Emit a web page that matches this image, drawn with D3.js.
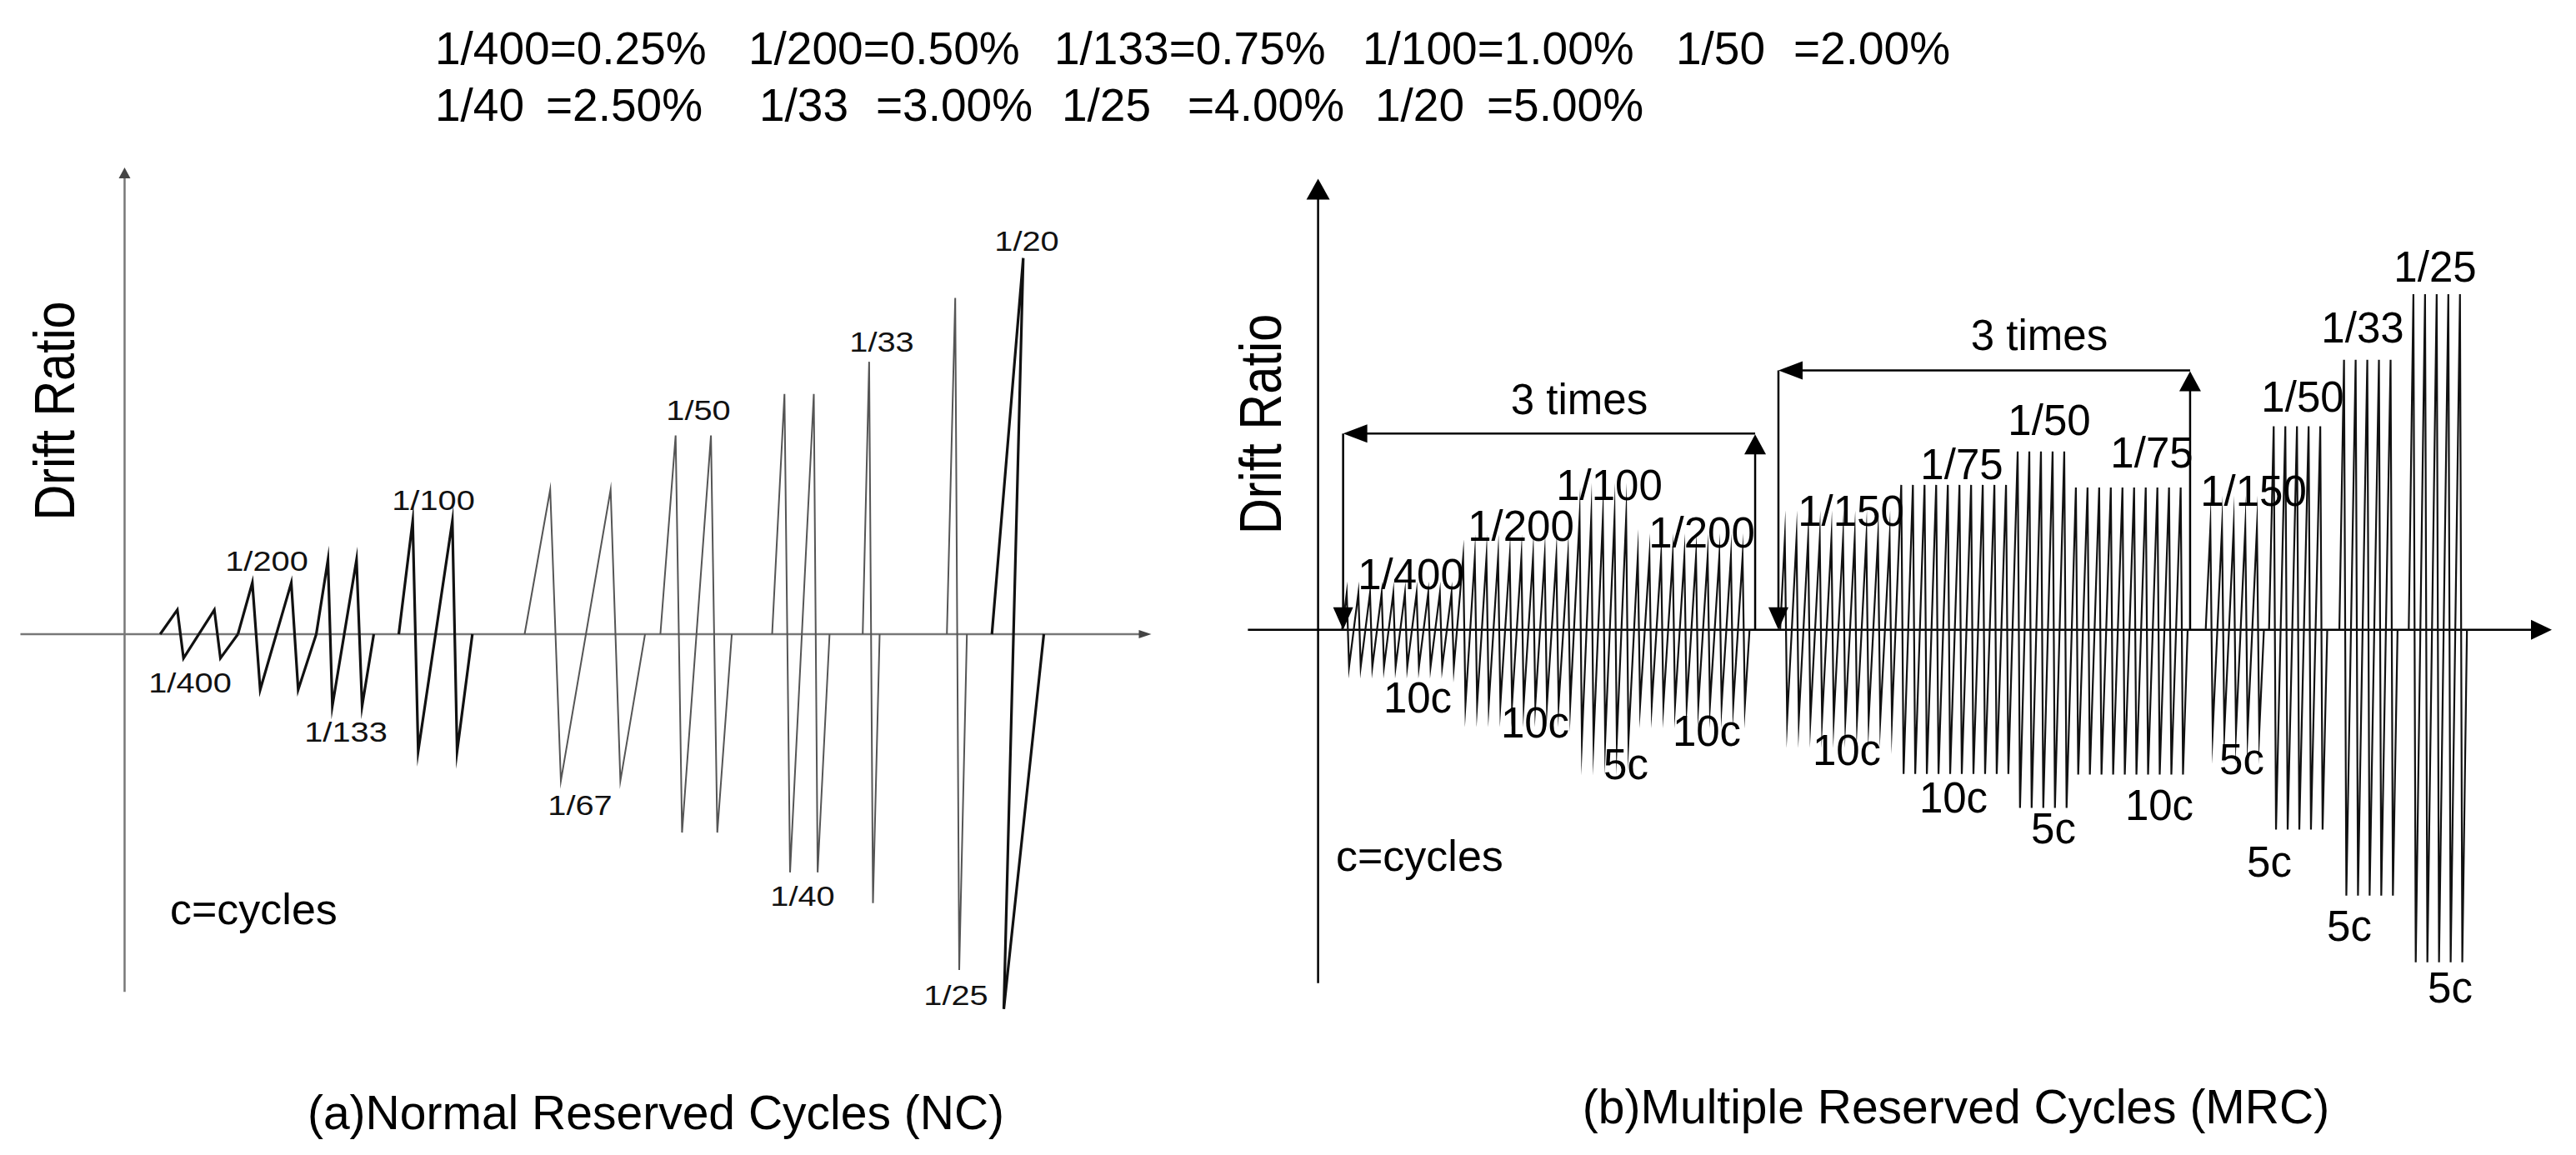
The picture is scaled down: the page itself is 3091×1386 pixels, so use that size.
<!DOCTYPE html>
<html><head><meta charset="utf-8">
<script src="https://cdn.jsdelivr.net/npm/d3@7/dist/d3.min.js"></script>
<style>html,body{margin:0;padding:0;background:#fff;} svg{display:block;}</style>
</head><body><svg id="c" width="3091" height="1386"></svg>
<script>
// ---------------- DATA ----------------
// legend (top)
const legendRow1 = ["1/400=0.25%", "1/200=0.50%", "1/133=0.75%", "1/100=1.00%", "1/50", "=2.00%"];
const legendRow2 = ["1/40", "=2.50%", "1/33", "=3.00%", "1/25", "=4.00%", "1/20", "=5.00%"];
const captions = ["(a)Normal Reserved Cycles (NC)", "(b)Multiple Reserved Cycles (MRC)"];
const axisTitle = "Drift Ratio";
const noteText = "c=cycles";
const timesText = "3 times";

// (a) NC protocol: one polyline per drift level (time, relative drift)
const ncLabels = ["1/400", "1/200", "1/133", "1/100", "1/67", "1/50", "1/40", "1/33", "1/25", "1/20"];
const ncTime = [
  [4.27, 6.33, 7.07, 10.77, 11.5, 13.6],
  [13.6, 15.33, 16.27, 20.0, 20.83, 23.0],
  [23.0, 24.4, 24.93, 27.83, 28.5, 29.9],
  [32.9, 34.57, 35.23, 39.33, 39.9, 41.73],
  [48.0, 51.07, 52.35, 58.32, 59.49, 62.45],
  [64.29, 66.12, 66.89, 70.36, 71.12, 72.86],
  [77.7, 79.18, 79.85, 82.7, 83.16, 84.59],
  [88.57, 89.34, 89.8, 90.6],
  [98.67, 99.67, 100.15, 101.07],
  [104.07, 107.83, 105.5, 110.3]
];
const ncDrift = [
  [0, 0.99, -0.98, 0.99, -0.98, 0],
  [0, 2.09, -2.26, 2.09, -2.26, 0],
  [0, 3.02, -2.92, 3.02, -2.92, 0],
  [0, 4.6, -4.76, 4.6, -4.76, 0],
  [0, 5.88, -5.97, 5.88, -5.97, 0],
  [0, 8.08, -8.07, 8.08, -8.07, 0],
  [0, 9.77, -9.69, 9.77, -9.69, 0],
  [0, 11.08, -10.94, 0],
  [0, 13.68, -13.66, 0],
  [0, 15.3, -15.25, 0]
];
const ncHeavy = [true, true, true, true, false, false, false, false, false, true];

// (b) MRC protocol: groups of cycles (label, n cycles, +peak, -peak, first-peak time, section)
const mrcLabels = ["1/400", "1/200", "1/100", "1/200", "1/150", "1/75", "1/50", "1/75", "1/150", "1/50", "1/33", "1/25"];
const mrcCycles = [10, 10, 5, 10, 10, 10, 5, 10, 5, 5, 5, 5];
const mrcUp = [1.0, 1.97, 3.05, 1.99, 2.48, 3.95, 4.86, 3.88, 2.78, 5.55, 7.36, 9.15];
const mrcDown = [1.01, 2.03, 3.01, 2.05, 2.45, 3.93, 4.86, 3.95, 2.79, 5.45, 7.25, 9.07];
const mrcStart = [2.46, 12.46, 22.46, 27.46, 40.09, 50.09, 60.09, 65.09, 76.64, 82.08, 88.12, 94.08];
const mrcSection = [1, 1, 1, 1, 2, 2, 2, 2, 3, 4, 5, 6];
// repetition brackets ("3 times"): [from time, to time, height]
const mrcBrackets = [[2.15, 37.54, 5.35], [39.54, 74.9, 7.07]];

// ---------------- LAYOUT ----------------
const W = 3091, H = 1386;
const FONT = "'Liberation Sans', Arial, Helvetica, sans-serif";
const svg = d3.select("#c").attr("viewBox", `0 0 ${W} ${H}`);

// legend rows
const row1X = [522, 898, 1265, 1635, 2011, 2152];
const row2X = [522, 655, 911, 1051, 1274, 1425, 1650, 1784];
[[legendRow1, row1X, 77], [legendRow2, row2X, 145]].forEach(([items, xs, y]) => {
  svg.selectAll(null).data(items).enter().append("text")
    .attr("x", (d, i) => xs[i]).attr("y", y)
    .style("font-family", FONT).style("font-size", "55px").attr("fill", "#000")
    .text(d => d);
});

// captions
svg.append("text").attr("x", 787).attr("y", 1355).attr("text-anchor", "middle")
  .style("font-family", FONT).style("font-size", "57px").text(captions[0]);
svg.append("text").attr("x", 2347).attr("y", 1348).attr("text-anchor", "middle")
  .style("font-family", FONT).style("font-size", "57px").text(captions[1]);

function tri(g, pts, fill) {
  g.append("polygon").attr("points", pts.map(p => p.join(",")).join(" ")).attr("fill", fill);
}

// ---------------- PANEL (a) ----------------
const ga = svg.append("g");
const ax = d3.scaleLinear().domain([0, 100]).range([149.5, 1149.5]);
const ay = d3.scaleLinear().domain([0, 1]).range([761, 731.5]);
const aAxisT = [-12.5, 123.2], aAxisV = [-14.55, 18.98];
const AX_GREY = "#777";
ga.append("line").attr("x1", ax(aAxisT[0])).attr("x2", ax(aAxisT[1]) - 8)
  .attr("y1", ay(0)).attr("y2", ay(0)).attr("stroke", AX_GREY).attr("stroke-width", 2.5);
ga.append("line").attr("x1", ax(0)).attr("x2", ax(0))
  .attr("y1", ay(aAxisV[0])).attr("y2", ay(aAxisV[1]) + 8).attr("stroke", AX_GREY).attr("stroke-width", 2.5);
tri(ga, [[ax(aAxisT[1]), ay(0)], [ax(aAxisT[1]) - 15, ay(0) - 5], [ax(aAxisT[1]) - 15, ay(0) + 5]], "#444");
tri(ga, [[ax(0), ay(aAxisV[1])], [ax(0) - 7, ay(aAxisV[1]) + 13], [ax(0) + 7, ay(aAxisV[1]) + 13]], "#444");

const lineA = d3.line().x(d => ax(d[0])).y(d => ay(d[1]));
ncTime.forEach((ts, i) => {
  const pts = ts.map((t, k) => [t, ncDrift[i][k]]);
  ga.append("path").attr("d", lineA(pts)).attr("fill", "none")
    .attr("stroke", ncHeavy[i] ? "#111" : "#555")
    .attr("stroke-width", ncHeavy[i] ? 3.2 : 2)
    .attr("stroke-linejoin", "miter").attr("stroke-miterlimit", 20);
});

const ncLabelPos = [[228, 831], [320, 685], [415, 890], [520, 612], [696, 978], [838, 504], [963, 1087], [1058, 422], [1147, 1206], [1232, 301]];
ncLabels.forEach((lab, i) => {
  ga.append("text").attr("transform", `translate(${ncLabelPos[i][0]},${ncLabelPos[i][1]}) scale(1.17,1)`)
    .attr("text-anchor", "middle").style("font-family", FONT).style("font-size", "34px")
    .attr("fill", "#111").text(lab);
});
ga.append("text").attr("transform", "translate(89,493) rotate(-90) scale(0.87,1)")
  .attr("text-anchor", "middle").style("font-family", FONT).style("font-size", "68px").text(axisTitle);
ga.append("text").attr("x", 204).attr("y", 1109).style("font-family", FONT).style("font-size", "52px").text(noteText);

// ---------------- PANEL (b) ----------------
const gb = svg.append("g");
const bx = d3.scaleLinear().domain([0, 1]).range([1581.6, 1595.57]);
const by = d3.scaleLinear().domain([0, 1]).range([755.7, 711.7]);
const bAxisT = [-6.03, 105.97], bAxisV = [-9.64, 12.3];
gb.append("line").attr("x1", bx(bAxisT[0])).attr("x2", bx(bAxisT[1]) - 20)
  .attr("y1", by(0)).attr("y2", by(0)).attr("stroke", "#000").attr("stroke-width", 2.5);
gb.append("line").attr("x1", bx(0)).attr("x2", bx(0))
  .attr("y1", by(bAxisV[0])).attr("y2", by(bAxisV[1]) + 20).attr("stroke", "#000").attr("stroke-width", 2.5);
tri(gb, [[bx(bAxisT[1]), by(0)], [bx(bAxisT[1]) - 25, by(0) - 12], [bx(bAxisT[1]) - 25, by(0) + 12]], "#000");
tri(gb, [[bx(0), by(bAxisV[1])], [bx(0) - 14, by(bAxisV[1]) + 25], [bx(0) + 14, by(bAxisV[1]) + 25]], "#000");

// waveform
const DROP = 0.2, LEAD = 0.4;
const lineB = d3.line().x(d => bx(d[0])).y(d => by(d[1]));
const secs = d3.groups(d3.range(mrcLabels.length), i => mrcSection[i]);
secs.forEach(([s, idx]) => {
  const pts = [[mrcStart[idx[0]] - LEAD, 0]];
  let last = 0;
  idx.forEach(i => {
    for (let k = 0; k < mrcCycles[i]; k++) {
      const p = mrcStart[i] + k;
      pts.push([p, mrcUp[i]]);
      pts.push([p + DROP, -mrcDown[i]]);
      last = p + DROP;
    }
  });
  pts.push([last + LEAD, 0]);
  gb.append("path").attr("d", lineB(pts)).attr("fill", "none")
    .attr("stroke", "#111").attr("stroke-width", 2.2)
    .attr("stroke-linejoin", "miter").attr("stroke-miterlimit", 40);
});

// brackets
mrcBrackets.forEach(([t0, t1, h]) => {
  const x0 = bx(t0), x1 = bx(t1), yTop = by(h), y0 = by(0);
  gb.append("line").attr("x1", x0).attr("x2", x0).attr("y1", yTop).attr("y2", y0 - 20).attr("stroke", "#000").attr("stroke-width", 2.5);
  gb.append("line").attr("x1", x0 + 20).attr("x2", x1).attr("y1", yTop).attr("y2", yTop).attr("stroke", "#000").attr("stroke-width", 2.5);
  gb.append("line").attr("x1", x1).attr("x2", x1).attr("y1", yTop + 20).attr("y2", y0).attr("stroke", "#000").attr("stroke-width", 2.5);
  tri(gb, [[x0, y0], [x0 - 12, y0 - 27], [x0 + 12, y0 - 27]], "#000");
  tri(gb, [[x0, yTop], [x0 + 29, yTop - 11], [x0 + 29, yTop + 11]], "#000");
  tri(gb, [[x1, yTop + 1], [x1 - 13, yTop + 25], [x1 + 13, yTop + 25]], "#000");
});
const timesPos = [[1895, 497], [2447, 420]];
timesPos.forEach(p => gb.append("text").attr("x", p[0]).attr("y", p[1]).attr("text-anchor", "middle")
  .style("font-family", FONT).style("font-size", "51px").text(timesText));

const mrcPeakPos = [[1693, 707], [1825, 649], [1931, 600], [2042, 657], [2221, 631], [2354, 575], [2459, 522], [2582, 561], [2704, 607], [2763, 494], [2835, 411], [2922, 338]];
const mrcCycPos = [[1701, 855], [1842, 885], [1951, 935], [2048, 895], [2216, 918], [2344, 975], [2464, 1012], [2591, 984], [2690, 929], [2723, 1052], [2819, 1129], [2940, 1203]];
mrcLabels.forEach((lab, i) => {
  gb.append("text").attr("x", mrcPeakPos[i][0]).attr("y", mrcPeakPos[i][1]).attr("text-anchor", "middle")
    .style("font-family", FONT).style("font-size", "51px").text(lab);
  gb.append("text").attr("x", mrcCycPos[i][0]).attr("y", mrcCycPos[i][1]).attr("text-anchor", "middle")
    .style("font-family", FONT).style("font-size", "51px").text(mrcCycles[i] + "c");
});
gb.append("text").attr("transform", "translate(1537,509) rotate(-90) scale(0.85,1)")
  .attr("text-anchor", "middle").style("font-family", FONT).style("font-size", "70px").text(axisTitle);
gb.append("text").attr("x", 1603).attr("y", 1045).style("font-family", FONT).style("font-size", "52px").text(noteText);
</script></body></html>
